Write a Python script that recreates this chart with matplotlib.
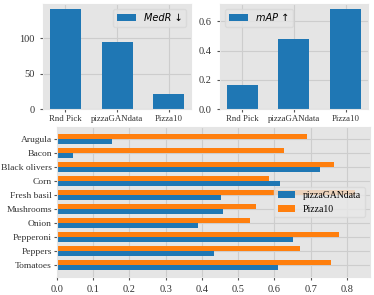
import matplotlib
matplotlib.use("Agg")
import matplotlib.pyplot as plt
import numpy as np

methods = ["Rnd Pick", "pizzaGANdata", "Pizza10"]
medr = [141, 94, 21]
mean_ap = [0.161, 0.481, 0.685]

toppings = ["Arugula", "Bacon", "Black olivers", "Corn", "Fresh basil",
            "Mushrooms", "Onion", "Pepperoni", "Peppers", "Tomatoes"]
gan_ap = [0.151, 0.044, 0.726, 0.614, 0.453, 0.457, 0.389, 0.651, 0.433, 0.609]
p10_ap = [0.691, 0.627, 0.765, 0.586, 0.822, 0.549, 0.532, 0.777, 0.671, 0.755]

plt.rcParams['font.family'] = ['Liberation Serif', 'DejaVu Serif']
plt.rcParams['axes.facecolor'] = '#e5e5e5'
plt.rcParams['axes.edgecolor'] = '#e5e5e5'
plt.rcParams['grid.color'] = '#cdcdcd'
plt.rcParams['grid.linewidth'] = 0.8
plt.rcParams['xtick.color'] = '#555555'
plt.rcParams['ytick.color'] = '#555555'
plt.rcParams['xtick.labelcolor'] = '#333333'
plt.rcParams['ytick.labelcolor'] = '#333333'
plt.rcParams['xtick.major.size'] = 2.5
plt.rcParams['ytick.major.size'] = 2.5

blue, orange = '#1f77b4', '#ff7f0e'

fig = plt.figure(figsize=(3.74, 2.95), dpi=100)
ax1 = fig.add_axes([0.115, 0.6305, 0.396, 0.356])
ax2 = fig.add_axes([0.588, 0.6305, 0.396, 0.356])
ax3 = fig.add_axes([0.152, 0.061, 0.837, 0.508])

x = np.arange(len(methods))
ax1.bar(x, medr, width=0.6, color=blue, label='MedR ↓')
ax2.bar(x, mean_ap, width=0.6, color=blue, label='mAP ↑')
for ax in (ax1, ax2):
    ax.set_xticks(x)
    ax.set_xticklabels(methods, fontsize=6.3)
    ax.tick_params(axis='x', pad=2)
    ax.tick_params(axis='y', labelsize=7.5)
    ax.grid(True)
    ax.set_axisbelow(True)
legend_font = {'family': 'DejaVu Sans', 'style': 'italic', 'size': 7}
ax1.legend(loc='upper right', prop=legend_font,
           facecolor='#e5e5e5', edgecolor='#d8d8d8')
ax2.legend(loc='upper left', prop=legend_font,
           facecolor='#e5e5e5', edgecolor='#d8d8d8')

y = np.arange(len(toppings))
h = 0.35
ax3.barh(y + h / 2, gan_ap, height=h, color=blue, label='pizzaGANdata')
ax3.barh(y - h / 2, p10_ap, height=h, color=orange, label='Pizza10')
ax3.set_yticks(y)
ax3.set_yticklabels(toppings, fontsize=6.8)
ax3.tick_params(axis='y', pad=1)
ax3.invert_yaxis()
ax3.tick_params(axis='x', labelsize=7.5)
ax3.grid(True)
ax3.set_axisbelow(True)
ax3.legend(loc='center right', fontsize=7, facecolor='#e8e8e8', edgecolor='#d8d8d8',
           framealpha=0.8, handlelength=1.8)

fig.savefig("out.png", dpi=100)
